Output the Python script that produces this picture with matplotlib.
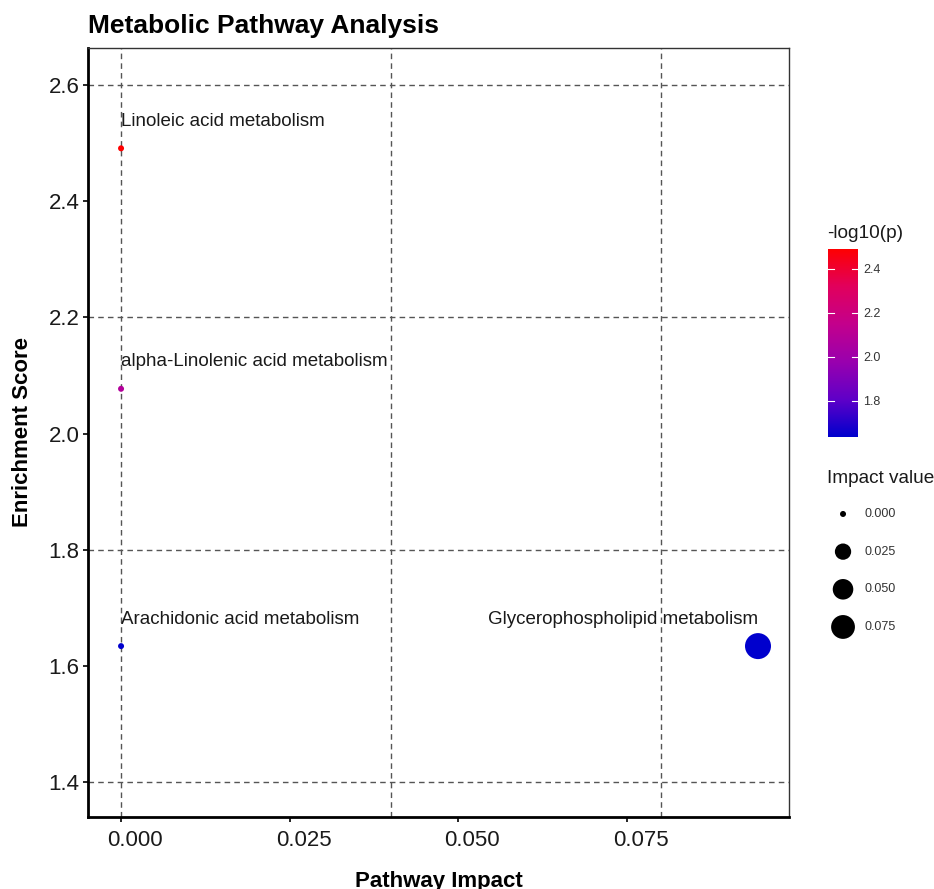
import numpy as np
import matplotlib
matplotlib.use('Agg')
import matplotlib.pyplot as plt
import matplotlib.transforms as mtransforms
from matplotlib.colors import LinearSegmentedColormap, Normalize

plt.rcParams['font.family'] = ['Liberation Sans', 'DejaVu Sans']

# data
pathways = ['Linoleic acid metabolism', 'alpha-Linolenic acid metabolism',
            'Arachidonic acid metabolism', 'Glycerophospholipid metabolism']
impact = [0.0, 0.0, 0.0, 0.0944]
enrichment = [2.491, 2.077, 1.634, 1.634]
neg_log_p = [2.491, 2.077, 1.634, 1.634]
label_ha = ['left', 'left', 'left', 'right']

x_ticks = [0.000, 0.025, 0.050, 0.075]
y_ticks = [1.4, 1.6, 1.8, 2.0, 2.2, 2.4, 2.6]
grid_x = [0.0, 0.04, 0.08]
grid_y = [1.4, 1.8, 2.2, 2.6]
cbar_ticks = [1.8, 2.0, 2.2, 2.4]
size_breaks = [0.000, 0.025, 0.050, 0.075]

DPI = 100

# blue -> red gradient (ggplot style, through magenta)
cmap = LinearSegmentedColormap.from_list(
    'bluered', ['#0000CD', '#6000C8', '#9A00AE', '#C4008C', '#E2005C', '#FF0000'])
norm = Normalize(vmin=min(neg_log_p), vmax=max(neg_log_p))


def marker_area(v):
    # diameter in px grows with sqrt of impact, like scale_size
    d_px = 6 + 20 * np.sqrt(np.asarray(v) / max(impact))
    d_pt = d_px * 72 / DPI
    return d_pt ** 2


fig = plt.figure(figsize=(9.34, 8.89), dpi=DPI)
ax = fig.add_axes([0.0942, 0.081, 0.7506, 0.865])

for gx in grid_x:
    ax.axvline(gx, color='#555555', linestyle=(0, (4, 3)), linewidth=1.0, zorder=1)
for gy in grid_y:
    ax.axhline(gy, color='#555555', linestyle=(0, (4, 3)), linewidth=1.0, zorder=1)

ax.scatter(impact, enrichment, s=marker_area(impact), c=neg_log_p,
           cmap=cmap, norm=norm, edgecolors='none', zorder=3)

for name, x, y, ha in zip(pathways, impact, enrichment, label_ha):
    ax.annotate(name, (x, y), xytext=(0, 19.5), textcoords='offset points',
                ha=ha, va='center', fontsize=13.5, color='#1a1a1a', zorder=4)

ax.set_xlim(-0.0049, 0.0990)
ax.set_ylim(1.3398, 2.6637)
ax.set_xticks(x_ticks)
ax.set_xticklabels(['%.3f' % t for t in x_ticks])
ax.set_yticks(y_ticks)
ax.set_yticklabels(['%.1f' % t for t in y_ticks])
ax.tick_params(axis='both', labelsize=16, length=3.6, width=1.2, color='black',
               labelcolor='#1a1a1a', direction='out')
ax.tick_params(axis='x', pad=5.5)
ax.tick_params(axis='y', pad=2.5)

# x tick labels sit a bit right of their ticks in the original
shift = mtransforms.ScaledTranslation(14 / DPI, 0, fig.dpi_scale_trans)
for lbl in ax.get_xticklabels():
    lbl.set_transform(lbl.get_transform() + shift)

for side in ['left', 'bottom']:
    ax.spines[side].set_linewidth(2)
    ax.spines[side].set_color('black')
for side in ['top', 'right']:
    ax.spines[side].set_linewidth(1)
    ax.spines[side].set_color('#333333')

ax.set_xlabel('Pathway Impact', fontsize=16, fontweight='bold', va='baseline')
ax.xaxis.set_label_coords(0.5, -0.0915)
ax.set_ylabel('Enrichment Score', fontsize=16, fontweight='bold', va='center')
ax.yaxis.set_label_coords(-0.094, 0.5)
fig.text(0.0942, 0.971, 'Metabolic Pathway Analysis', fontsize=19,
         fontweight='bold', ha='left', va='center')

# colour bar
cax = fig.add_axes([0.8865, 0.5084, 0.032, 0.2115])
grad = np.linspace(norm.vmin, norm.vmax, 256).reshape(-1, 1)
cax.imshow(grad, aspect='auto', origin='lower', cmap=cmap, norm=norm,
           extent=[0, 1, norm.vmin, norm.vmax])
cax.set_xlim(0, 1)
cax.set_ylim(norm.vmin, norm.vmax)
for t in cbar_ticks:
    cax.plot([0, 0.2], [t, t], color='white', lw=0.8)
    cax.plot([0.8, 1], [t, t], color='white', lw=0.8)
cax.set_xticks([])
cax.set_yticks(cbar_ticks)
cax.set_yticklabels(['%.1f' % t for t in cbar_ticks])
cax.yaxis.tick_right()
cax.tick_params(axis='y', length=0, labelsize=9, pad=4, labelcolor='#333333')
for s in cax.spines.values():
    s.set_visible(False)
fig.text(0.8855, 0.7379, '-log10(p)', fontsize=13.7, ha='left', va='center', color='#1a1a1a')

# size legend
fig.text(0.8855, 0.4623, 'Impact value', fontsize=13.7, ha='left', va='center', color='#1a1a1a')
lax = fig.add_axes([0.873, 0.2745, 0.127, 0.1687])
lax.set_xlim(0, 1)
lax.set_ylim(3.478, -0.504)
lax.axis('off')
rows = np.arange(len(size_breaks))
lax.scatter([0.233] * len(size_breaks), rows, s=marker_area(size_breaks),
            color='black', edgecolors='none')
for r, v in zip(rows, size_breaks):
    lax.text(0.41, r, '%.3f' % v, fontsize=9, va='center', ha='left', color='#333333')

fig.savefig('out.png', dpi=DPI)
